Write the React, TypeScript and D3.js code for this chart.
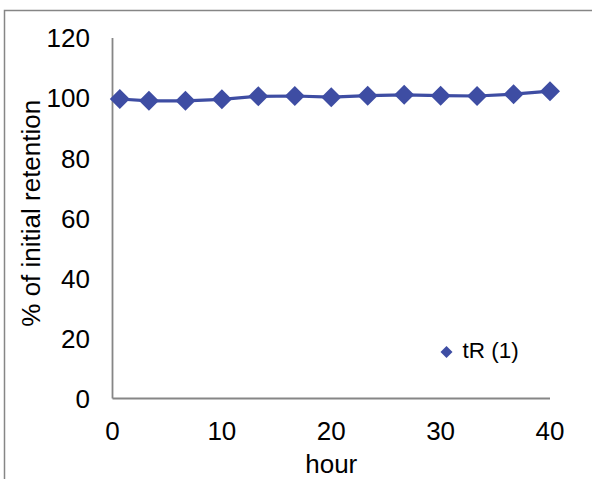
import React from "react";
import * as d3 from "d3";

const hours = [0.67, 3.33, 6.67, 10, 13.33, 16.67, 20, 23.33, 26.67, 30, 33.33, 36.67, 40];
const retention = [99.7, 99.1, 99.1, 99.6, 100.6, 100.7, 100.3, 100.8, 101.1, 100.8, 100.7, 101.3, 102.3];
const xTicks = [0, 10, 20, 30, 40];
const yTicks = [0, 20, 40, 60, 80, 100, 120];
const seriesName = "tR (1)";

const W = 592;
const H = 479;
const COLOR = "#3E4DA3";
const AXIS = "#868686";
const FONT = "Liberation Sans, Arial, sans-serif";

export default function App() {
  const x = d3.scaleLinear().domain([0, 40]).range([112.5, 550]);
  const y = d3.scaleLinear().domain([0, 120]).range([398.5, 38]);
  const line = d3
    .line<number>()
    .x((_, i) => x(hours[i]))
    .y((d) => y(d));
  const diamond = (s: number) => `M0,${-s}L${s},0L0,${s}L${-s},0Z`;

  return (
    <svg
      width={W}
      height={H}
      style={{ position: "fixed", left: 0, top: 0, background: "#fff" }}
      fontFamily={FONT}
    >
      <rect x={0} y={0} width={W} height={H} fill="#fff" />
      <path d={`M4.5,${H}V10.5H${W}`} fill="none" stroke={AXIS} strokeWidth={1.5} />
      <line x1={x(0)} x2={x(0)} y1={y(120)} y2={y(0)} stroke={AXIS} strokeWidth={1.8} />
      <line x1={x(0)} x2={x(40)} y1={y(0)} y2={y(0)} stroke={AXIS} strokeWidth={1.8} />
      {yTicks.map((t) => (
        <text key={t} x={90} y={y(t)} dy="0.36em" textAnchor="end" fontSize={26} fill="#000">
          {t}
        </text>
      ))}
      {xTicks.map((t) => (
        <text key={t} x={x(t)} y={439.5} textAnchor="middle" fontSize={26} fill="#000">
          {t}
        </text>
      ))}
      <text x={x(20)} y={473} textAnchor="middle" fontSize={26} fill="#000">
        hour
      </text>
      <text
        transform={`translate(40,${(y(0) + y(120)) / 2 - 5}) rotate(-90)`}
        textAnchor="middle"
        fontSize={26}
        fill="#000"
      >
        % of initial retention
      </text>
      <path d={line(retention) || ""} fill="none" stroke={COLOR} strokeWidth={3.2} />
      {retention.map((v, i) => (
        <path key={i} d={diamond(10)} transform={`translate(${x(hours[i])},${y(v)})`} fill={COLOR} />
      ))}
      <path d={diamond(6)} transform="translate(446.5,352)" fill={COLOR} />
      <text x={462.5} y={358} fontSize={22.5} fill="#000">
        {seriesName}
      </text>
    </svg>
  );
}
